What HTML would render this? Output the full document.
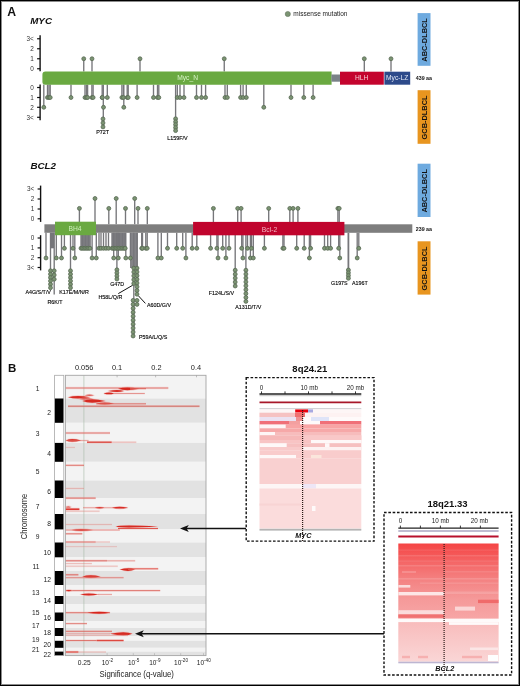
<!DOCTYPE html>
<html><head><meta charset="utf-8"><style>
html,body{margin:0;padding:0;background:#fff;}
body{width:520px;height:686px;overflow:hidden;position:relative;}
svg{position:absolute;left:0;top:0;font-family:"Liberation Sans", sans-serif;will-change:transform;}
#frame{position:absolute;left:0;top:0;width:518px;height:684px;border:1px solid #000;box-shadow:inset 0 0 0 1px #8c8c8c;}
</style></head><body>
<svg width="520" height="686" viewBox="0 0 520 686">
<rect width="520" height="686" fill="#fff"/>
<text x="7.2" y="15.7" font-size="12.2" text-anchor="start" fill="#111" font-weight="bold" font-style="normal" >A</text>
<text x="30.2" y="24.3" font-size="9.8" text-anchor="start" fill="#111" font-weight="bold" font-style="italic" >MYC</text>
<circle cx="287.8" cy="14" r="2.6" fill="#7b9472" stroke="#5b6b56" stroke-width="0.5"/>
<text x="293.3" y="16.3" font-size="6.5" text-anchor="start" fill="#222" font-weight="normal" font-style="normal" >missense mutation</text>
<rect x="417.6" y="13.1" width="12.9" height="52.699999999999996" fill="#6eaadf"/>
<text x="424.1" y="39.9" font-size="7.4" font-weight="bold" text-anchor="middle" fill="#111" transform="rotate(-90 424.1 39.9)" dy="2.6">ABC-DLBCL</text>
<rect x="417.6" y="90.2" width="12.9" height="53.60000000000001" fill="#e8951f"/>
<text x="424.1" y="117.45" font-size="7.4" font-weight="bold" text-anchor="middle" fill="#111" transform="rotate(-90 424.1 117.45)" dy="2.6">GCB-DLBCL</text>
<rect x="417.6" y="163.7" width="12.9" height="53.30000000000001" fill="#6eaadf"/>
<text x="424.1" y="190.79999999999998" font-size="7.4" font-weight="bold" text-anchor="middle" fill="#111" transform="rotate(-90 424.1 190.79999999999998)" dy="2.6">ABC-DLBCL</text>
<rect x="417.6" y="241.3" width="12.9" height="53.30000000000001" fill="#e8951f"/>
<text x="424.1" y="268.40000000000003" font-size="7.4" font-weight="bold" text-anchor="middle" fill="#111" transform="rotate(-90 424.1 268.40000000000003)" dy="2.6">GCB-DLBCL</text>
<line x1="40.1" y1="35.3" x2="40.1" y2="71.3" stroke="#111" stroke-width="1.4"/>
<line x1="37.1" y1="38.75" x2="40.1" y2="38.75" stroke="#111" stroke-width="1.2"/>
<text x="33.800000000000004" y="40.95" font-size="6.4" text-anchor="end" fill="#333">3&lt;</text>
<line x1="37.1" y1="48.75" x2="40.1" y2="48.75" stroke="#111" stroke-width="1.2"/>
<text x="33.800000000000004" y="50.95" font-size="6.4" text-anchor="end" fill="#333">2</text>
<line x1="37.1" y1="58.75" x2="40.1" y2="58.75" stroke="#111" stroke-width="1.2"/>
<text x="33.800000000000004" y="60.95" font-size="6.4" text-anchor="end" fill="#333">1</text>
<line x1="37.1" y1="68.75" x2="40.1" y2="68.75" stroke="#111" stroke-width="1.2"/>
<text x="33.800000000000004" y="70.95" font-size="6.4" text-anchor="end" fill="#333">0</text>
<line x1="40.1" y1="84.4" x2="40.1" y2="120.3" stroke="#111" stroke-width="1.4"/>
<line x1="37.1" y1="87.5" x2="40.1" y2="87.5" stroke="#111" stroke-width="1.2"/>
<text x="33.800000000000004" y="89.7" font-size="6.4" text-anchor="end" fill="#333">0</text>
<line x1="37.1" y1="97.5" x2="40.1" y2="97.5" stroke="#111" stroke-width="1.2"/>
<text x="33.800000000000004" y="99.7" font-size="6.4" text-anchor="end" fill="#333">1</text>
<line x1="37.1" y1="107.3" x2="40.1" y2="107.3" stroke="#111" stroke-width="1.2"/>
<text x="33.800000000000004" y="109.5" font-size="6.4" text-anchor="end" fill="#333">2</text>
<line x1="37.1" y1="117.3" x2="40.1" y2="117.3" stroke="#111" stroke-width="1.2"/>
<text x="33.800000000000004" y="119.5" font-size="6.4" text-anchor="end" fill="#333">3&lt;</text>
<line x1="83.75" y1="71.6" x2="83.75" y2="58.75" stroke="#76767a" stroke-width="1.35"/>
<line x1="92" y1="71.6" x2="92" y2="58.75" stroke="#76767a" stroke-width="1.35"/>
<line x1="140" y1="71.6" x2="140" y2="58.75" stroke="#76767a" stroke-width="1.35"/>
<line x1="224.25" y1="71.6" x2="224.25" y2="58.75" stroke="#76767a" stroke-width="1.35"/>
<line x1="364.3" y1="71.6" x2="364.3" y2="58.75" stroke="#76767a" stroke-width="1.35"/>
<line x1="391" y1="71.6" x2="391" y2="58.75" stroke="#76767a" stroke-width="1.35"/>
<line x1="47.5" y1="84.6" x2="47.5" y2="97.5" stroke="#76767a" stroke-width="1.35"/>
<line x1="49" y1="84.6" x2="49" y2="97.5" stroke="#76767a" stroke-width="1.35"/>
<line x1="50.2" y1="84.6" x2="50.2" y2="97.5" stroke="#76767a" stroke-width="1.35"/>
<line x1="71" y1="84.6" x2="71" y2="97.5" stroke="#76767a" stroke-width="1.35"/>
<line x1="85" y1="84.6" x2="85" y2="97.5" stroke="#76767a" stroke-width="1.35"/>
<line x1="86.5" y1="84.6" x2="86.5" y2="97.5" stroke="#76767a" stroke-width="1.35"/>
<line x1="87.6" y1="84.6" x2="87.6" y2="97.5" stroke="#76767a" stroke-width="1.35"/>
<line x1="91.9" y1="84.6" x2="91.9" y2="97.5" stroke="#76767a" stroke-width="1.35"/>
<line x1="93.1" y1="84.6" x2="93.1" y2="97.5" stroke="#76767a" stroke-width="1.35"/>
<line x1="102.2" y1="84.6" x2="102.2" y2="97.5" stroke="#76767a" stroke-width="1.35"/>
<line x1="107.3" y1="84.6" x2="107.3" y2="97.5" stroke="#76767a" stroke-width="1.35"/>
<line x1="121.9" y1="84.6" x2="121.9" y2="97.5" stroke="#76767a" stroke-width="1.35"/>
<line x1="123.4" y1="84.6" x2="123.4" y2="97.5" stroke="#76767a" stroke-width="1.35"/>
<line x1="127.2" y1="84.6" x2="127.2" y2="97.5" stroke="#76767a" stroke-width="1.35"/>
<line x1="128.2" y1="84.6" x2="128.2" y2="97.5" stroke="#76767a" stroke-width="1.35"/>
<line x1="137.1" y1="84.6" x2="137.1" y2="97.5" stroke="#76767a" stroke-width="1.35"/>
<line x1="153.5" y1="84.6" x2="153.5" y2="97.5" stroke="#76767a" stroke-width="1.35"/>
<line x1="157.5" y1="84.6" x2="157.5" y2="97.5" stroke="#76767a" stroke-width="1.35"/>
<line x1="158.8" y1="84.6" x2="158.8" y2="97.5" stroke="#76767a" stroke-width="1.35"/>
<line x1="177.3" y1="84.6" x2="177.3" y2="97.5" stroke="#76767a" stroke-width="1.35"/>
<line x1="180" y1="84.6" x2="180" y2="97.5" stroke="#76767a" stroke-width="1.35"/>
<line x1="184" y1="84.6" x2="184" y2="97.5" stroke="#76767a" stroke-width="1.35"/>
<line x1="196.5" y1="84.6" x2="196.5" y2="97.5" stroke="#76767a" stroke-width="1.35"/>
<line x1="201.5" y1="84.6" x2="201.5" y2="97.5" stroke="#76767a" stroke-width="1.35"/>
<line x1="205.6" y1="84.6" x2="205.6" y2="97.5" stroke="#76767a" stroke-width="1.35"/>
<line x1="225" y1="84.6" x2="225" y2="97.5" stroke="#76767a" stroke-width="1.35"/>
<line x1="227.3" y1="84.6" x2="227.3" y2="97.5" stroke="#76767a" stroke-width="1.35"/>
<line x1="240.6" y1="84.6" x2="240.6" y2="97.5" stroke="#76767a" stroke-width="1.35"/>
<line x1="243.1" y1="84.6" x2="243.1" y2="97.5" stroke="#76767a" stroke-width="1.35"/>
<line x1="246.3" y1="84.6" x2="246.3" y2="97.5" stroke="#76767a" stroke-width="1.35"/>
<line x1="291" y1="84.6" x2="291" y2="97.5" stroke="#76767a" stroke-width="1.35"/>
<line x1="303.8" y1="84.6" x2="303.8" y2="97.5" stroke="#76767a" stroke-width="1.35"/>
<line x1="313.1" y1="84.6" x2="313.1" y2="97.5" stroke="#76767a" stroke-width="1.35"/>
<line x1="43.8" y1="84.6" x2="43.8" y2="107.3" stroke="#76767a" stroke-width="1.35"/>
<line x1="123.8" y1="84.6" x2="123.8" y2="107.3" stroke="#76767a" stroke-width="1.35"/>
<line x1="263.8" y1="84.6" x2="263.8" y2="107.3" stroke="#76767a" stroke-width="1.35"/>
<line x1="103.3" y1="84.6" x2="103.3" y2="127.0" stroke="#76767a" stroke-width="1.35"/>
<line x1="175.6" y1="84.6" x2="175.6" y2="130.6" stroke="#76767a" stroke-width="1.35"/>
<path d="M45.5,71.5 H331.6 V84.7 H45.5 Q42.4,84.7 42.4,81.5 V74.7 Q42.4,71.5 45.5,71.5 Z" fill="#6aa941"/>
<rect x="331.4" y="74.5" width="9" height="7.2" fill="#7a8288"/>
<rect x="340" y="71.7" width="43.8" height="13" fill="#c4042e"/>
<rect x="384.4" y="71.7" width="25.8" height="13" fill="#2d4a8a"/>
<text x="187.6" y="80.2" font-size="6.7" text-anchor="middle" fill="#d6f2c6" font-weight="normal" font-style="normal" >Myc_N</text>
<text x="361.7" y="80.2" font-size="6.7" text-anchor="middle" fill="#f6cdd5" font-weight="normal" font-style="normal" >HLH</text>
<text x="397.2" y="80.2" font-size="6.7" text-anchor="middle" fill="#e2e8f6" font-weight="normal" font-style="normal" >Myc-LZ</text>
<text x="415.8" y="80.0" font-size="5.3" text-anchor="start" fill="#111" font-weight="bold" font-style="normal" >439 aa</text>
<circle cx="83.75" cy="58.75" r="1.95" fill="#7b9472" stroke="#5b6b56" stroke-width="0.85"/>
<circle cx="92" cy="58.75" r="1.95" fill="#7b9472" stroke="#5b6b56" stroke-width="0.85"/>
<circle cx="140" cy="58.75" r="1.95" fill="#7b9472" stroke="#5b6b56" stroke-width="0.85"/>
<circle cx="224.25" cy="58.75" r="1.95" fill="#7b9472" stroke="#5b6b56" stroke-width="0.85"/>
<circle cx="364.3" cy="58.75" r="1.95" fill="#7b9472" stroke="#5b6b56" stroke-width="0.85"/>
<circle cx="391" cy="58.75" r="1.95" fill="#7b9472" stroke="#5b6b56" stroke-width="0.85"/>
<circle cx="47.5" cy="97.5" r="1.95" fill="#7b9472" stroke="#5b6b56" stroke-width="0.85"/>
<circle cx="49" cy="97.5" r="1.95" fill="#7b9472" stroke="#5b6b56" stroke-width="0.85"/>
<circle cx="50.2" cy="97.5" r="1.95" fill="#7b9472" stroke="#5b6b56" stroke-width="0.85"/>
<circle cx="71" cy="97.5" r="1.95" fill="#7b9472" stroke="#5b6b56" stroke-width="0.85"/>
<circle cx="85" cy="97.5" r="1.95" fill="#7b9472" stroke="#5b6b56" stroke-width="0.85"/>
<circle cx="86.5" cy="97.5" r="1.95" fill="#7b9472" stroke="#5b6b56" stroke-width="0.85"/>
<circle cx="87.6" cy="97.5" r="1.95" fill="#7b9472" stroke="#5b6b56" stroke-width="0.85"/>
<circle cx="91.9" cy="97.5" r="1.95" fill="#7b9472" stroke="#5b6b56" stroke-width="0.85"/>
<circle cx="93.1" cy="97.5" r="1.95" fill="#7b9472" stroke="#5b6b56" stroke-width="0.85"/>
<circle cx="102.2" cy="97.5" r="1.95" fill="#7b9472" stroke="#5b6b56" stroke-width="0.85"/>
<circle cx="107.3" cy="97.5" r="1.95" fill="#7b9472" stroke="#5b6b56" stroke-width="0.85"/>
<circle cx="121.9" cy="97.5" r="1.95" fill="#7b9472" stroke="#5b6b56" stroke-width="0.85"/>
<circle cx="123.4" cy="97.5" r="1.95" fill="#7b9472" stroke="#5b6b56" stroke-width="0.85"/>
<circle cx="127.2" cy="97.5" r="1.95" fill="#7b9472" stroke="#5b6b56" stroke-width="0.85"/>
<circle cx="128.2" cy="97.5" r="1.95" fill="#7b9472" stroke="#5b6b56" stroke-width="0.85"/>
<circle cx="137.1" cy="97.5" r="1.95" fill="#7b9472" stroke="#5b6b56" stroke-width="0.85"/>
<circle cx="153.5" cy="97.5" r="1.95" fill="#7b9472" stroke="#5b6b56" stroke-width="0.85"/>
<circle cx="157.5" cy="97.5" r="1.95" fill="#7b9472" stroke="#5b6b56" stroke-width="0.85"/>
<circle cx="158.8" cy="97.5" r="1.95" fill="#7b9472" stroke="#5b6b56" stroke-width="0.85"/>
<circle cx="177.3" cy="97.5" r="1.95" fill="#7b9472" stroke="#5b6b56" stroke-width="0.85"/>
<circle cx="180" cy="97.5" r="1.95" fill="#7b9472" stroke="#5b6b56" stroke-width="0.85"/>
<circle cx="184" cy="97.5" r="1.95" fill="#7b9472" stroke="#5b6b56" stroke-width="0.85"/>
<circle cx="196.5" cy="97.5" r="1.95" fill="#7b9472" stroke="#5b6b56" stroke-width="0.85"/>
<circle cx="201.5" cy="97.5" r="1.95" fill="#7b9472" stroke="#5b6b56" stroke-width="0.85"/>
<circle cx="205.6" cy="97.5" r="1.95" fill="#7b9472" stroke="#5b6b56" stroke-width="0.85"/>
<circle cx="225" cy="97.5" r="1.95" fill="#7b9472" stroke="#5b6b56" stroke-width="0.85"/>
<circle cx="227.3" cy="97.5" r="1.95" fill="#7b9472" stroke="#5b6b56" stroke-width="0.85"/>
<circle cx="240.6" cy="97.5" r="1.95" fill="#7b9472" stroke="#5b6b56" stroke-width="0.85"/>
<circle cx="243.1" cy="97.5" r="1.95" fill="#7b9472" stroke="#5b6b56" stroke-width="0.85"/>
<circle cx="246.3" cy="97.5" r="1.95" fill="#7b9472" stroke="#5b6b56" stroke-width="0.85"/>
<circle cx="291" cy="97.5" r="1.95" fill="#7b9472" stroke="#5b6b56" stroke-width="0.85"/>
<circle cx="303.8" cy="97.5" r="1.95" fill="#7b9472" stroke="#5b6b56" stroke-width="0.85"/>
<circle cx="313.1" cy="97.5" r="1.95" fill="#7b9472" stroke="#5b6b56" stroke-width="0.85"/>
<circle cx="43.8" cy="107.3" r="1.95" fill="#7b9472" stroke="#5b6b56" stroke-width="0.85"/>
<circle cx="123.8" cy="107.3" r="1.95" fill="#7b9472" stroke="#5b6b56" stroke-width="0.85"/>
<circle cx="263.8" cy="107.3" r="1.95" fill="#7b9472" stroke="#5b6b56" stroke-width="0.85"/>
<circle cx="102.3" cy="97.5" r="1.95" fill="#7b9472" stroke="#5b6b56" stroke-width="0.85"/>
<circle cx="103.5" cy="107.3" r="1.95" fill="#7b9472" stroke="#5b6b56" stroke-width="0.85"/>
<circle cx="103.0" cy="118.9" r="1.95" fill="#7b9472" stroke="#5b6b56" stroke-width="0.85"/>
<circle cx="103.0" cy="122.9" r="1.95" fill="#7b9472" stroke="#5b6b56" stroke-width="0.85"/>
<circle cx="103.0" cy="126.9" r="1.95" fill="#7b9472" stroke="#5b6b56" stroke-width="0.85"/>
<circle cx="175.6" cy="118.8" r="1.95" fill="#7b9472" stroke="#5b6b56" stroke-width="0.85"/>
<circle cx="175.6" cy="121.8" r="1.95" fill="#7b9472" stroke="#5b6b56" stroke-width="0.85"/>
<circle cx="175.6" cy="124.6" r="1.95" fill="#7b9472" stroke="#5b6b56" stroke-width="0.85"/>
<circle cx="175.6" cy="127.6" r="1.95" fill="#7b9472" stroke="#5b6b56" stroke-width="0.85"/>
<circle cx="175.6" cy="130.6" r="1.95" fill="#7b9472" stroke="#5b6b56" stroke-width="0.85"/>
<text x="102.6" y="133.6" font-size="5.4" text-anchor="middle" fill="#000" font-weight="normal" font-style="normal" stroke="#000" stroke-width="0.12">P72T</text>
<text x="177.5" y="139.6" font-size="5.4" text-anchor="middle" fill="#000" font-weight="normal" font-style="normal" stroke="#000" stroke-width="0.12">L159F/V</text>
<text x="30.4" y="169.3" font-size="9.8" text-anchor="start" fill="#111" font-weight="bold" font-style="italic" >BCL2</text>
<line x1="40.6" y1="185.6" x2="40.6" y2="221.9" stroke="#111" stroke-width="1.4"/>
<line x1="37.6" y1="189" x2="40.6" y2="189" stroke="#111" stroke-width="1.2"/>
<text x="34.300000000000004" y="191.2" font-size="6.4" text-anchor="end" fill="#333">3&lt;</text>
<line x1="37.6" y1="199" x2="40.6" y2="199" stroke="#111" stroke-width="1.2"/>
<text x="34.300000000000004" y="201.2" font-size="6.4" text-anchor="end" fill="#333">2</text>
<line x1="37.6" y1="209" x2="40.6" y2="209" stroke="#111" stroke-width="1.2"/>
<text x="34.300000000000004" y="211.2" font-size="6.4" text-anchor="end" fill="#333">1</text>
<line x1="37.6" y1="218.8" x2="40.6" y2="218.8" stroke="#111" stroke-width="1.2"/>
<text x="34.300000000000004" y="221.0" font-size="6.4" text-anchor="end" fill="#333">0</text>
<line x1="40.6" y1="235.2" x2="40.6" y2="270.4" stroke="#111" stroke-width="1.4"/>
<line x1="37.6" y1="238" x2="40.6" y2="238" stroke="#111" stroke-width="1.2"/>
<text x="34.300000000000004" y="240.2" font-size="6.4" text-anchor="end" fill="#333">0</text>
<line x1="37.6" y1="247.9" x2="40.6" y2="247.9" stroke="#111" stroke-width="1.2"/>
<text x="34.300000000000004" y="250.1" font-size="6.4" text-anchor="end" fill="#333">1</text>
<line x1="37.6" y1="257.7" x2="40.6" y2="257.7" stroke="#111" stroke-width="1.2"/>
<text x="34.300000000000004" y="259.9" font-size="6.4" text-anchor="end" fill="#333">2</text>
<line x1="37.6" y1="267.5" x2="40.6" y2="267.5" stroke="#111" stroke-width="1.2"/>
<text x="34.300000000000004" y="269.7" font-size="6.4" text-anchor="end" fill="#333">3&lt;</text>
<line x1="79.4" y1="224.3" x2="79.4" y2="208.4" stroke="#76767a" stroke-width="1.35"/>
<line x1="108.8" y1="224.3" x2="108.8" y2="208.4" stroke="#76767a" stroke-width="1.35"/>
<line x1="125.5" y1="224.3" x2="125.5" y2="208.4" stroke="#76767a" stroke-width="1.35"/>
<line x1="138" y1="224.3" x2="138" y2="208.4" stroke="#76767a" stroke-width="1.35"/>
<line x1="147.3" y1="224.3" x2="147.3" y2="208.4" stroke="#76767a" stroke-width="1.35"/>
<line x1="213.4" y1="224.3" x2="213.4" y2="208.4" stroke="#76767a" stroke-width="1.35"/>
<line x1="237.7" y1="224.3" x2="237.7" y2="208.4" stroke="#76767a" stroke-width="1.35"/>
<line x1="241.1" y1="224.3" x2="241.1" y2="208.4" stroke="#76767a" stroke-width="1.35"/>
<line x1="268.7" y1="224.3" x2="268.7" y2="208.4" stroke="#76767a" stroke-width="1.35"/>
<line x1="289.8" y1="224.3" x2="289.8" y2="208.4" stroke="#76767a" stroke-width="1.35"/>
<line x1="293.1" y1="224.3" x2="293.1" y2="208.4" stroke="#76767a" stroke-width="1.35"/>
<line x1="297.9" y1="224.3" x2="297.9" y2="208.4" stroke="#76767a" stroke-width="1.35"/>
<line x1="337.9" y1="224.3" x2="337.9" y2="208.4" stroke="#76767a" stroke-width="1.35"/>
<line x1="339.2" y1="224.3" x2="339.2" y2="208.4" stroke="#76767a" stroke-width="1.35"/>
<line x1="95" y1="224.3" x2="95" y2="198.5" stroke="#76767a" stroke-width="1.35"/>
<line x1="116.2" y1="224.3" x2="116.2" y2="198.5" stroke="#76767a" stroke-width="1.35"/>
<line x1="134.7" y1="224.3" x2="134.7" y2="198.5" stroke="#76767a" stroke-width="1.35"/>
<line x1="64.4" y1="232.8" x2="64.4" y2="248.3" stroke="#76767a" stroke-width="1.35"/>
<line x1="73" y1="232.8" x2="73" y2="248.3" stroke="#76767a" stroke-width="1.35"/>
<line x1="81" y1="232.8" x2="81" y2="248.3" stroke="#76767a" stroke-width="1.35"/>
<line x1="82.5" y1="232.8" x2="82.5" y2="248.3" stroke="#76767a" stroke-width="1.35"/>
<line x1="84" y1="232.8" x2="84" y2="248.3" stroke="#76767a" stroke-width="1.35"/>
<line x1="85.5" y1="232.8" x2="85.5" y2="248.3" stroke="#76767a" stroke-width="1.35"/>
<line x1="87" y1="232.8" x2="87" y2="248.3" stroke="#76767a" stroke-width="1.35"/>
<line x1="88.5" y1="232.8" x2="88.5" y2="248.3" stroke="#76767a" stroke-width="1.35"/>
<line x1="90" y1="232.8" x2="90" y2="248.3" stroke="#76767a" stroke-width="1.35"/>
<line x1="99" y1="232.8" x2="99" y2="248.3" stroke="#76767a" stroke-width="1.35"/>
<line x1="101" y1="232.8" x2="101" y2="248.3" stroke="#76767a" stroke-width="1.35"/>
<line x1="103.5" y1="232.8" x2="103.5" y2="248.3" stroke="#76767a" stroke-width="1.35"/>
<line x1="106" y1="232.8" x2="106" y2="248.3" stroke="#76767a" stroke-width="1.35"/>
<line x1="108.5" y1="232.8" x2="108.5" y2="248.3" stroke="#76767a" stroke-width="1.35"/>
<line x1="112" y1="232.8" x2="112" y2="248.3" stroke="#76767a" stroke-width="1.35"/>
<line x1="113.5" y1="232.8" x2="113.5" y2="248.3" stroke="#76767a" stroke-width="1.35"/>
<line x1="115" y1="232.8" x2="115" y2="248.3" stroke="#76767a" stroke-width="1.35"/>
<line x1="116.5" y1="232.8" x2="116.5" y2="248.3" stroke="#76767a" stroke-width="1.35"/>
<line x1="118" y1="232.8" x2="118" y2="248.3" stroke="#76767a" stroke-width="1.35"/>
<line x1="119.5" y1="232.8" x2="119.5" y2="248.3" stroke="#76767a" stroke-width="1.35"/>
<line x1="121" y1="232.8" x2="121" y2="248.3" stroke="#76767a" stroke-width="1.35"/>
<line x1="122.5" y1="232.8" x2="122.5" y2="248.3" stroke="#76767a" stroke-width="1.35"/>
<line x1="124" y1="232.8" x2="124" y2="248.3" stroke="#76767a" stroke-width="1.35"/>
<line x1="125.2" y1="232.8" x2="125.2" y2="248.3" stroke="#76767a" stroke-width="1.35"/>
<line x1="141.7" y1="232.8" x2="141.7" y2="248.3" stroke="#76767a" stroke-width="1.35"/>
<line x1="142.5" y1="232.8" x2="142.5" y2="248.3" stroke="#76767a" stroke-width="1.35"/>
<line x1="145.8" y1="232.8" x2="145.8" y2="248.3" stroke="#76767a" stroke-width="1.35"/>
<line x1="147.2" y1="232.8" x2="147.2" y2="248.3" stroke="#76767a" stroke-width="1.35"/>
<line x1="167.5" y1="232.8" x2="167.5" y2="248.3" stroke="#76767a" stroke-width="1.35"/>
<line x1="176.7" y1="232.8" x2="176.7" y2="248.3" stroke="#76767a" stroke-width="1.35"/>
<line x1="182.7" y1="232.8" x2="182.7" y2="248.3" stroke="#76767a" stroke-width="1.35"/>
<line x1="192.2" y1="232.8" x2="192.2" y2="248.3" stroke="#76767a" stroke-width="1.35"/>
<line x1="196.8" y1="232.8" x2="196.8" y2="248.3" stroke="#76767a" stroke-width="1.35"/>
<line x1="210.6" y1="232.8" x2="210.6" y2="248.3" stroke="#76767a" stroke-width="1.35"/>
<line x1="216.9" y1="232.8" x2="216.9" y2="248.3" stroke="#76767a" stroke-width="1.35"/>
<line x1="222.7" y1="232.8" x2="222.7" y2="248.3" stroke="#76767a" stroke-width="1.35"/>
<line x1="229" y1="232.8" x2="229" y2="248.3" stroke="#76767a" stroke-width="1.35"/>
<line x1="241.7" y1="232.8" x2="241.7" y2="248.3" stroke="#76767a" stroke-width="1.35"/>
<line x1="247.5" y1="232.8" x2="247.5" y2="248.3" stroke="#76767a" stroke-width="1.35"/>
<line x1="251.5" y1="232.8" x2="251.5" y2="248.3" stroke="#76767a" stroke-width="1.35"/>
<line x1="264.4" y1="232.8" x2="264.4" y2="248.3" stroke="#76767a" stroke-width="1.35"/>
<line x1="282.9" y1="232.8" x2="282.9" y2="248.3" stroke="#76767a" stroke-width="1.35"/>
<line x1="284" y1="232.8" x2="284" y2="248.3" stroke="#76767a" stroke-width="1.35"/>
<line x1="296.7" y1="232.8" x2="296.7" y2="248.3" stroke="#76767a" stroke-width="1.35"/>
<line x1="304.2" y1="232.8" x2="304.2" y2="248.3" stroke="#76767a" stroke-width="1.35"/>
<line x1="310.6" y1="232.8" x2="310.6" y2="248.3" stroke="#76767a" stroke-width="1.35"/>
<line x1="324.5" y1="232.8" x2="324.5" y2="248.3" stroke="#76767a" stroke-width="1.35"/>
<line x1="327.7" y1="232.8" x2="327.7" y2="248.3" stroke="#76767a" stroke-width="1.35"/>
<line x1="330.6" y1="232.8" x2="330.6" y2="248.3" stroke="#76767a" stroke-width="1.35"/>
<line x1="338.7" y1="232.8" x2="338.7" y2="248.3" stroke="#76767a" stroke-width="1.35"/>
<line x1="358.8" y1="232.8" x2="358.8" y2="248.3" stroke="#76767a" stroke-width="1.35"/>
<line x1="46" y1="232.8" x2="46" y2="258.0" stroke="#76767a" stroke-width="1.35"/>
<line x1="56.3" y1="232.8" x2="56.3" y2="258.0" stroke="#76767a" stroke-width="1.35"/>
<line x1="61.5" y1="232.8" x2="61.5" y2="258.0" stroke="#76767a" stroke-width="1.35"/>
<line x1="74.8" y1="232.8" x2="74.8" y2="258.0" stroke="#76767a" stroke-width="1.35"/>
<line x1="92.1" y1="232.8" x2="92.1" y2="258.0" stroke="#76767a" stroke-width="1.35"/>
<line x1="96.3" y1="232.8" x2="96.3" y2="258.0" stroke="#76767a" stroke-width="1.35"/>
<line x1="113.7" y1="232.8" x2="113.7" y2="258.0" stroke="#76767a" stroke-width="1.35"/>
<line x1="118.3" y1="232.8" x2="118.3" y2="258.0" stroke="#76767a" stroke-width="1.35"/>
<line x1="125.8" y1="232.8" x2="125.8" y2="258.0" stroke="#76767a" stroke-width="1.35"/>
<line x1="130.4" y1="232.8" x2="130.4" y2="258.0" stroke="#76767a" stroke-width="1.35"/>
<line x1="157.9" y1="232.8" x2="157.9" y2="258.0" stroke="#76767a" stroke-width="1.35"/>
<line x1="161.3" y1="232.8" x2="161.3" y2="258.0" stroke="#76767a" stroke-width="1.35"/>
<line x1="185.9" y1="232.8" x2="185.9" y2="258.0" stroke="#76767a" stroke-width="1.35"/>
<line x1="218" y1="232.8" x2="218" y2="258.0" stroke="#76767a" stroke-width="1.35"/>
<line x1="225.9" y1="232.8" x2="225.9" y2="258.0" stroke="#76767a" stroke-width="1.35"/>
<line x1="242.9" y1="232.8" x2="242.9" y2="258.0" stroke="#76767a" stroke-width="1.35"/>
<line x1="250.4" y1="232.8" x2="250.4" y2="258.0" stroke="#76767a" stroke-width="1.35"/>
<line x1="253.3" y1="232.8" x2="253.3" y2="258.0" stroke="#76767a" stroke-width="1.35"/>
<line x1="309.4" y1="232.8" x2="309.4" y2="258.0" stroke="#76767a" stroke-width="1.35"/>
<line x1="339.8" y1="232.8" x2="339.8" y2="258.0" stroke="#76767a" stroke-width="1.35"/>
<line x1="357.2" y1="232.8" x2="357.2" y2="258.0" stroke="#76767a" stroke-width="1.35"/>
<rect x="50" y="232.8" width="4" height="15.5" fill="#76767a"/>
<rect x="112" y="232.8" width="13.5" height="14.5" fill="#76767a" opacity="0.85"/>
<rect x="81" y="232.8" width="9.5" height="14.5" fill="#76767a" opacity="0.85"/>
<rect x="130" y="232.8" width="8" height="35.19999999999999" fill="#76767a" opacity="0.9"/>
<line x1="50.5" y1="232.8" x2="50.5" y2="287.7" stroke="#76767a" stroke-width="1.35"/>
<line x1="54.2" y1="232.8" x2="54.2" y2="294.6" stroke="#76767a" stroke-width="1.35"/>
<line x1="70.5" y1="232.8" x2="70.5" y2="287.7" stroke="#76767a" stroke-width="1.35"/>
<line x1="116.9" y1="232.8" x2="116.9" y2="278.8" stroke="#76767a" stroke-width="1.35"/>
<line x1="133.8" y1="232.8" x2="133.8" y2="336.0" stroke="#76767a" stroke-width="1.35"/>
<line x1="137.0" y1="232.8" x2="137.0" y2="294.2" stroke="#76767a" stroke-width="1.35"/>
<line x1="235.2" y1="232.8" x2="235.2" y2="286.5" stroke="#76767a" stroke-width="1.35"/>
<line x1="245.9" y1="232.8" x2="245.9" y2="301.5" stroke="#76767a" stroke-width="1.35"/>
<line x1="348.4" y1="232.8" x2="348.4" y2="278.3" stroke="#76767a" stroke-width="1.8"/>
<rect x="44.4" y="224.3" width="367.9" height="8.5" fill="#7e7e7e"/>
<rect x="55" y="221.7" width="41" height="13.5" fill="#6aa941"/>
<rect x="193.1" y="221.9" width="151.3" height="13.4" fill="#c0042d"/>
<text x="75.0" y="231.2" font-size="6.7" text-anchor="middle" fill="#cdeebb" font-weight="normal" font-style="normal" >BH4</text>
<text x="269.5" y="231.6" font-size="6.8" text-anchor="middle" fill="#f4b4c2" font-weight="normal" font-style="normal" >Bcl-2</text>
<text x="415.8" y="231.4" font-size="5.3" text-anchor="start" fill="#111" font-weight="bold" font-style="normal" >239 aa</text>
<circle cx="79.4" cy="208.4" r="1.95" fill="#7b9472" stroke="#5b6b56" stroke-width="0.85"/>
<circle cx="108.8" cy="208.4" r="1.95" fill="#7b9472" stroke="#5b6b56" stroke-width="0.85"/>
<circle cx="125.5" cy="208.4" r="1.95" fill="#7b9472" stroke="#5b6b56" stroke-width="0.85"/>
<circle cx="138" cy="208.4" r="1.95" fill="#7b9472" stroke="#5b6b56" stroke-width="0.85"/>
<circle cx="147.3" cy="208.4" r="1.95" fill="#7b9472" stroke="#5b6b56" stroke-width="0.85"/>
<circle cx="213.4" cy="208.4" r="1.95" fill="#7b9472" stroke="#5b6b56" stroke-width="0.85"/>
<circle cx="237.7" cy="208.4" r="1.95" fill="#7b9472" stroke="#5b6b56" stroke-width="0.85"/>
<circle cx="241.1" cy="208.4" r="1.95" fill="#7b9472" stroke="#5b6b56" stroke-width="0.85"/>
<circle cx="268.7" cy="208.4" r="1.95" fill="#7b9472" stroke="#5b6b56" stroke-width="0.85"/>
<circle cx="289.8" cy="208.4" r="1.95" fill="#7b9472" stroke="#5b6b56" stroke-width="0.85"/>
<circle cx="293.1" cy="208.4" r="1.95" fill="#7b9472" stroke="#5b6b56" stroke-width="0.85"/>
<circle cx="297.9" cy="208.4" r="1.95" fill="#7b9472" stroke="#5b6b56" stroke-width="0.85"/>
<circle cx="337.9" cy="208.4" r="1.95" fill="#7b9472" stroke="#5b6b56" stroke-width="0.85"/>
<circle cx="339.2" cy="208.4" r="1.95" fill="#7b9472" stroke="#5b6b56" stroke-width="0.85"/>
<circle cx="95" cy="198.5" r="1.95" fill="#7b9472" stroke="#5b6b56" stroke-width="0.85"/>
<circle cx="116.2" cy="198.5" r="1.95" fill="#7b9472" stroke="#5b6b56" stroke-width="0.85"/>
<circle cx="134.7" cy="198.5" r="1.95" fill="#7b9472" stroke="#5b6b56" stroke-width="0.85"/>
<circle cx="64.4" cy="248.3" r="1.95" fill="#7b9472" stroke="#5b6b56" stroke-width="0.85"/>
<circle cx="73" cy="248.3" r="1.95" fill="#7b9472" stroke="#5b6b56" stroke-width="0.85"/>
<circle cx="81" cy="248.3" r="1.95" fill="#7b9472" stroke="#5b6b56" stroke-width="0.85"/>
<circle cx="82.5" cy="248.3" r="1.95" fill="#7b9472" stroke="#5b6b56" stroke-width="0.85"/>
<circle cx="84" cy="248.3" r="1.95" fill="#7b9472" stroke="#5b6b56" stroke-width="0.85"/>
<circle cx="85.5" cy="248.3" r="1.95" fill="#7b9472" stroke="#5b6b56" stroke-width="0.85"/>
<circle cx="87" cy="248.3" r="1.95" fill="#7b9472" stroke="#5b6b56" stroke-width="0.85"/>
<circle cx="88.5" cy="248.3" r="1.95" fill="#7b9472" stroke="#5b6b56" stroke-width="0.85"/>
<circle cx="90" cy="248.3" r="1.95" fill="#7b9472" stroke="#5b6b56" stroke-width="0.85"/>
<circle cx="99" cy="248.3" r="1.95" fill="#7b9472" stroke="#5b6b56" stroke-width="0.85"/>
<circle cx="101" cy="248.3" r="1.95" fill="#7b9472" stroke="#5b6b56" stroke-width="0.85"/>
<circle cx="103.5" cy="248.3" r="1.95" fill="#7b9472" stroke="#5b6b56" stroke-width="0.85"/>
<circle cx="106" cy="248.3" r="1.95" fill="#7b9472" stroke="#5b6b56" stroke-width="0.85"/>
<circle cx="108.5" cy="248.3" r="1.95" fill="#7b9472" stroke="#5b6b56" stroke-width="0.85"/>
<circle cx="112" cy="248.3" r="1.95" fill="#7b9472" stroke="#5b6b56" stroke-width="0.85"/>
<circle cx="113.5" cy="248.3" r="1.95" fill="#7b9472" stroke="#5b6b56" stroke-width="0.85"/>
<circle cx="115" cy="248.3" r="1.95" fill="#7b9472" stroke="#5b6b56" stroke-width="0.85"/>
<circle cx="116.5" cy="248.3" r="1.95" fill="#7b9472" stroke="#5b6b56" stroke-width="0.85"/>
<circle cx="118" cy="248.3" r="1.95" fill="#7b9472" stroke="#5b6b56" stroke-width="0.85"/>
<circle cx="119.5" cy="248.3" r="1.95" fill="#7b9472" stroke="#5b6b56" stroke-width="0.85"/>
<circle cx="121" cy="248.3" r="1.95" fill="#7b9472" stroke="#5b6b56" stroke-width="0.85"/>
<circle cx="122.5" cy="248.3" r="1.95" fill="#7b9472" stroke="#5b6b56" stroke-width="0.85"/>
<circle cx="124" cy="248.3" r="1.95" fill="#7b9472" stroke="#5b6b56" stroke-width="0.85"/>
<circle cx="125.2" cy="248.3" r="1.95" fill="#7b9472" stroke="#5b6b56" stroke-width="0.85"/>
<circle cx="141.7" cy="248.3" r="1.95" fill="#7b9472" stroke="#5b6b56" stroke-width="0.85"/>
<circle cx="142.5" cy="248.3" r="1.95" fill="#7b9472" stroke="#5b6b56" stroke-width="0.85"/>
<circle cx="145.8" cy="248.3" r="1.95" fill="#7b9472" stroke="#5b6b56" stroke-width="0.85"/>
<circle cx="147.2" cy="248.3" r="1.95" fill="#7b9472" stroke="#5b6b56" stroke-width="0.85"/>
<circle cx="167.5" cy="248.3" r="1.95" fill="#7b9472" stroke="#5b6b56" stroke-width="0.85"/>
<circle cx="176.7" cy="248.3" r="1.95" fill="#7b9472" stroke="#5b6b56" stroke-width="0.85"/>
<circle cx="182.7" cy="248.3" r="1.95" fill="#7b9472" stroke="#5b6b56" stroke-width="0.85"/>
<circle cx="192.2" cy="248.3" r="1.95" fill="#7b9472" stroke="#5b6b56" stroke-width="0.85"/>
<circle cx="196.8" cy="248.3" r="1.95" fill="#7b9472" stroke="#5b6b56" stroke-width="0.85"/>
<circle cx="210.6" cy="248.3" r="1.95" fill="#7b9472" stroke="#5b6b56" stroke-width="0.85"/>
<circle cx="216.9" cy="248.3" r="1.95" fill="#7b9472" stroke="#5b6b56" stroke-width="0.85"/>
<circle cx="222.7" cy="248.3" r="1.95" fill="#7b9472" stroke="#5b6b56" stroke-width="0.85"/>
<circle cx="229" cy="248.3" r="1.95" fill="#7b9472" stroke="#5b6b56" stroke-width="0.85"/>
<circle cx="241.7" cy="248.3" r="1.95" fill="#7b9472" stroke="#5b6b56" stroke-width="0.85"/>
<circle cx="247.5" cy="248.3" r="1.95" fill="#7b9472" stroke="#5b6b56" stroke-width="0.85"/>
<circle cx="251.5" cy="248.3" r="1.95" fill="#7b9472" stroke="#5b6b56" stroke-width="0.85"/>
<circle cx="264.4" cy="248.3" r="1.95" fill="#7b9472" stroke="#5b6b56" stroke-width="0.85"/>
<circle cx="282.9" cy="248.3" r="1.95" fill="#7b9472" stroke="#5b6b56" stroke-width="0.85"/>
<circle cx="284" cy="248.3" r="1.95" fill="#7b9472" stroke="#5b6b56" stroke-width="0.85"/>
<circle cx="296.7" cy="248.3" r="1.95" fill="#7b9472" stroke="#5b6b56" stroke-width="0.85"/>
<circle cx="304.2" cy="248.3" r="1.95" fill="#7b9472" stroke="#5b6b56" stroke-width="0.85"/>
<circle cx="310.6" cy="248.3" r="1.95" fill="#7b9472" stroke="#5b6b56" stroke-width="0.85"/>
<circle cx="324.5" cy="248.3" r="1.95" fill="#7b9472" stroke="#5b6b56" stroke-width="0.85"/>
<circle cx="327.7" cy="248.3" r="1.95" fill="#7b9472" stroke="#5b6b56" stroke-width="0.85"/>
<circle cx="330.6" cy="248.3" r="1.95" fill="#7b9472" stroke="#5b6b56" stroke-width="0.85"/>
<circle cx="338.7" cy="248.3" r="1.95" fill="#7b9472" stroke="#5b6b56" stroke-width="0.85"/>
<circle cx="358.8" cy="248.3" r="1.95" fill="#7b9472" stroke="#5b6b56" stroke-width="0.85"/>
<circle cx="46" cy="258.0" r="1.95" fill="#7b9472" stroke="#5b6b56" stroke-width="0.85"/>
<circle cx="56.3" cy="258.0" r="1.95" fill="#7b9472" stroke="#5b6b56" stroke-width="0.85"/>
<circle cx="61.5" cy="258.0" r="1.95" fill="#7b9472" stroke="#5b6b56" stroke-width="0.85"/>
<circle cx="74.8" cy="258.0" r="1.95" fill="#7b9472" stroke="#5b6b56" stroke-width="0.85"/>
<circle cx="92.1" cy="258.0" r="1.95" fill="#7b9472" stroke="#5b6b56" stroke-width="0.85"/>
<circle cx="96.3" cy="258.0" r="1.95" fill="#7b9472" stroke="#5b6b56" stroke-width="0.85"/>
<circle cx="113.7" cy="258.0" r="1.95" fill="#7b9472" stroke="#5b6b56" stroke-width="0.85"/>
<circle cx="118.3" cy="258.0" r="1.95" fill="#7b9472" stroke="#5b6b56" stroke-width="0.85"/>
<circle cx="125.8" cy="258.0" r="1.95" fill="#7b9472" stroke="#5b6b56" stroke-width="0.85"/>
<circle cx="130.4" cy="258.0" r="1.95" fill="#7b9472" stroke="#5b6b56" stroke-width="0.85"/>
<circle cx="157.9" cy="258.0" r="1.95" fill="#7b9472" stroke="#5b6b56" stroke-width="0.85"/>
<circle cx="161.3" cy="258.0" r="1.95" fill="#7b9472" stroke="#5b6b56" stroke-width="0.85"/>
<circle cx="185.9" cy="258.0" r="1.95" fill="#7b9472" stroke="#5b6b56" stroke-width="0.85"/>
<circle cx="218" cy="258.0" r="1.95" fill="#7b9472" stroke="#5b6b56" stroke-width="0.85"/>
<circle cx="225.9" cy="258.0" r="1.95" fill="#7b9472" stroke="#5b6b56" stroke-width="0.85"/>
<circle cx="242.9" cy="258.0" r="1.95" fill="#7b9472" stroke="#5b6b56" stroke-width="0.85"/>
<circle cx="250.4" cy="258.0" r="1.95" fill="#7b9472" stroke="#5b6b56" stroke-width="0.85"/>
<circle cx="253.3" cy="258.0" r="1.95" fill="#7b9472" stroke="#5b6b56" stroke-width="0.85"/>
<circle cx="309.4" cy="258.0" r="1.95" fill="#7b9472" stroke="#5b6b56" stroke-width="0.85"/>
<circle cx="339.8" cy="258.0" r="1.95" fill="#7b9472" stroke="#5b6b56" stroke-width="0.85"/>
<circle cx="357.2" cy="258.0" r="1.95" fill="#7b9472" stroke="#5b6b56" stroke-width="0.85"/>
<circle cx="50.5" cy="270.8" r="1.95" fill="#7b9472" stroke="#5b6b56" stroke-width="0.85"/>
<circle cx="50.5" cy="274.18" r="1.95" fill="#7b9472" stroke="#5b6b56" stroke-width="0.85"/>
<circle cx="50.5" cy="277.56" r="1.95" fill="#7b9472" stroke="#5b6b56" stroke-width="0.85"/>
<circle cx="50.5" cy="280.94" r="1.95" fill="#7b9472" stroke="#5b6b56" stroke-width="0.85"/>
<circle cx="50.5" cy="284.32" r="1.95" fill="#7b9472" stroke="#5b6b56" stroke-width="0.85"/>
<circle cx="50.5" cy="287.7" r="1.95" fill="#7b9472" stroke="#5b6b56" stroke-width="0.85"/>
<circle cx="54.2" cy="270.8" r="1.95" fill="#7b9472" stroke="#5b6b56" stroke-width="0.85"/>
<circle cx="54.2" cy="275.0" r="1.95" fill="#7b9472" stroke="#5b6b56" stroke-width="0.85"/>
<circle cx="54.2" cy="279.2" r="1.95" fill="#7b9472" stroke="#5b6b56" stroke-width="0.85"/>
<circle cx="70.5" cy="270.8" r="1.95" fill="#7b9472" stroke="#5b6b56" stroke-width="0.85"/>
<circle cx="70.5" cy="274.18" r="1.95" fill="#7b9472" stroke="#5b6b56" stroke-width="0.85"/>
<circle cx="70.5" cy="277.56" r="1.95" fill="#7b9472" stroke="#5b6b56" stroke-width="0.85"/>
<circle cx="70.5" cy="280.94" r="1.95" fill="#7b9472" stroke="#5b6b56" stroke-width="0.85"/>
<circle cx="70.5" cy="284.32" r="1.95" fill="#7b9472" stroke="#5b6b56" stroke-width="0.85"/>
<circle cx="70.5" cy="287.7" r="1.95" fill="#7b9472" stroke="#5b6b56" stroke-width="0.85"/>
<circle cx="116.9" cy="269.8" r="1.95" fill="#7b9472" stroke="#5b6b56" stroke-width="0.85"/>
<circle cx="116.9" cy="272.8666666666667" r="1.95" fill="#7b9472" stroke="#5b6b56" stroke-width="0.85"/>
<circle cx="116.9" cy="275.93333333333334" r="1.95" fill="#7b9472" stroke="#5b6b56" stroke-width="0.85"/>
<circle cx="116.9" cy="279.0" r="1.95" fill="#7b9472" stroke="#5b6b56" stroke-width="0.85"/>
<circle cx="133.8" cy="268.2" r="1.95" fill="#7b9472" stroke="#5b6b56" stroke-width="0.85"/>
<circle cx="133.8" cy="272.025" r="1.95" fill="#7b9472" stroke="#5b6b56" stroke-width="0.85"/>
<circle cx="133.8" cy="275.85" r="1.95" fill="#7b9472" stroke="#5b6b56" stroke-width="0.85"/>
<circle cx="133.8" cy="279.675" r="1.95" fill="#7b9472" stroke="#5b6b56" stroke-width="0.85"/>
<circle cx="133.8" cy="283.5" r="1.95" fill="#7b9472" stroke="#5b6b56" stroke-width="0.85"/>
<circle cx="137.0" cy="268.2" r="1.95" fill="#7b9472" stroke="#5b6b56" stroke-width="0.85"/>
<circle cx="137.0" cy="271.9142857142857" r="1.95" fill="#7b9472" stroke="#5b6b56" stroke-width="0.85"/>
<circle cx="137.0" cy="275.62857142857143" r="1.95" fill="#7b9472" stroke="#5b6b56" stroke-width="0.85"/>
<circle cx="137.0" cy="279.34285714285716" r="1.95" fill="#7b9472" stroke="#5b6b56" stroke-width="0.85"/>
<circle cx="137.0" cy="283.0571428571428" r="1.95" fill="#7b9472" stroke="#5b6b56" stroke-width="0.85"/>
<circle cx="137.0" cy="286.77142857142854" r="1.95" fill="#7b9472" stroke="#5b6b56" stroke-width="0.85"/>
<circle cx="137.0" cy="290.48571428571427" r="1.95" fill="#7b9472" stroke="#5b6b56" stroke-width="0.85"/>
<circle cx="137.0" cy="294.2" r="1.95" fill="#7b9472" stroke="#5b6b56" stroke-width="0.85"/>
<circle cx="133.1" cy="300.4" r="1.95" fill="#7b9472" stroke="#5b6b56" stroke-width="0.85"/>
<circle cx="133.1" cy="304.35555555555555" r="1.95" fill="#7b9472" stroke="#5b6b56" stroke-width="0.85"/>
<circle cx="133.1" cy="308.3111111111111" r="1.95" fill="#7b9472" stroke="#5b6b56" stroke-width="0.85"/>
<circle cx="133.1" cy="312.26666666666665" r="1.95" fill="#7b9472" stroke="#5b6b56" stroke-width="0.85"/>
<circle cx="133.1" cy="316.22222222222223" r="1.95" fill="#7b9472" stroke="#5b6b56" stroke-width="0.85"/>
<circle cx="133.1" cy="320.17777777777775" r="1.95" fill="#7b9472" stroke="#5b6b56" stroke-width="0.85"/>
<circle cx="133.1" cy="324.1333333333333" r="1.95" fill="#7b9472" stroke="#5b6b56" stroke-width="0.85"/>
<circle cx="133.1" cy="328.0888888888889" r="1.95" fill="#7b9472" stroke="#5b6b56" stroke-width="0.85"/>
<circle cx="133.1" cy="332.0444444444444" r="1.95" fill="#7b9472" stroke="#5b6b56" stroke-width="0.85"/>
<circle cx="133.1" cy="336.0" r="1.95" fill="#7b9472" stroke="#5b6b56" stroke-width="0.85"/>
<circle cx="137.0" cy="300.4" r="1.95" fill="#7b9472" stroke="#5b6b56" stroke-width="0.85"/>
<circle cx="137.0" cy="304.4" r="1.95" fill="#7b9472" stroke="#5b6b56" stroke-width="0.85"/>
<circle cx="235.2" cy="270.2" r="1.95" fill="#7b9472" stroke="#5b6b56" stroke-width="0.85"/>
<circle cx="235.2" cy="274.15" r="1.95" fill="#7b9472" stroke="#5b6b56" stroke-width="0.85"/>
<circle cx="235.2" cy="278.1" r="1.95" fill="#7b9472" stroke="#5b6b56" stroke-width="0.85"/>
<circle cx="235.2" cy="282.05" r="1.95" fill="#7b9472" stroke="#5b6b56" stroke-width="0.85"/>
<circle cx="235.2" cy="286.0" r="1.95" fill="#7b9472" stroke="#5b6b56" stroke-width="0.85"/>
<circle cx="245.9" cy="270.2" r="1.95" fill="#7b9472" stroke="#5b6b56" stroke-width="0.85"/>
<circle cx="245.9" cy="274.09999999999997" r="1.95" fill="#7b9472" stroke="#5b6b56" stroke-width="0.85"/>
<circle cx="245.9" cy="278.0" r="1.95" fill="#7b9472" stroke="#5b6b56" stroke-width="0.85"/>
<circle cx="245.9" cy="281.9" r="1.95" fill="#7b9472" stroke="#5b6b56" stroke-width="0.85"/>
<circle cx="245.9" cy="285.79999999999995" r="1.95" fill="#7b9472" stroke="#5b6b56" stroke-width="0.85"/>
<circle cx="245.9" cy="289.7" r="1.95" fill="#7b9472" stroke="#5b6b56" stroke-width="0.85"/>
<circle cx="245.9" cy="293.59999999999997" r="1.95" fill="#7b9472" stroke="#5b6b56" stroke-width="0.85"/>
<circle cx="245.9" cy="297.5" r="1.95" fill="#7b9472" stroke="#5b6b56" stroke-width="0.85"/>
<circle cx="245.9" cy="301.4" r="1.95" fill="#7b9472" stroke="#5b6b56" stroke-width="0.85"/>
<circle cx="348.4" cy="270.0" r="1.95" fill="#7b9472" stroke="#5b6b56" stroke-width="0.85"/>
<circle cx="348.4" cy="272.76666666666665" r="1.95" fill="#7b9472" stroke="#5b6b56" stroke-width="0.85"/>
<circle cx="348.4" cy="275.53333333333336" r="1.95" fill="#7b9472" stroke="#5b6b56" stroke-width="0.85"/>
<circle cx="348.4" cy="278.3" r="1.95" fill="#7b9472" stroke="#5b6b56" stroke-width="0.85"/>
<text x="25.4" y="294.3" font-size="5.35" text-anchor="start" fill="#000" font-weight="normal" font-style="normal" stroke="#000" stroke-width="0.12">A4G/S/T/V</text>
<text x="47.4" y="303.5" font-size="5.35" text-anchor="start" fill="#000" font-weight="normal" font-style="normal" stroke="#000" stroke-width="0.12">R6K/T</text>
<text x="59.2" y="294.3" font-size="5.35" text-anchor="start" fill="#000" font-weight="normal" font-style="normal" stroke="#000" stroke-width="0.12">K17E/M/N/R</text>
<text x="110.2" y="285.8" font-size="5.35" text-anchor="start" fill="#000" font-weight="normal" font-style="normal" stroke="#000" stroke-width="0.12">G47D</text>
<text x="98.5" y="298.8" font-size="5.35" text-anchor="start" fill="#000" font-weight="normal" font-style="normal" stroke="#000" stroke-width="0.12">H58L/Q/R</text>
<line x1="132.6" y1="285.3" x2="118.3" y2="293.6" stroke="#111" stroke-width="1.0"/>
<text x="147.0" y="307.3" font-size="5.35" text-anchor="start" fill="#000" font-weight="normal" font-style="normal" stroke="#000" stroke-width="0.12">A60D/G/V</text>
<line x1="138.6" y1="296" x2="145.4" y2="303.4" stroke="#111" stroke-width="1.0"/>
<text x="139.0" y="338.5" font-size="5.35" text-anchor="start" fill="#000" font-weight="normal" font-style="normal" stroke="#000" stroke-width="0.12">P59A/L/Q/S</text>
<text x="208.8" y="295.3" font-size="5.35" text-anchor="start" fill="#000" font-weight="normal" font-style="normal" stroke="#000" stroke-width="0.12">F124L/S/V</text>
<text x="235.2" y="308.7" font-size="5.35" text-anchor="start" fill="#000" font-weight="normal" font-style="normal" stroke="#000" stroke-width="0.12">A131D/T/V</text>
<text x="331.0" y="285.3" font-size="5.35" text-anchor="start" fill="#000" font-weight="normal" font-style="normal" stroke="#000" stroke-width="0.12">G197S</text>
<text x="352.0" y="284.7" font-size="5.35" text-anchor="start" fill="#000" font-weight="normal" font-style="normal" stroke="#000" stroke-width="0.12">A196T</text>
<text x="8" y="372" font-size="11.5" text-anchor="start" fill="#111" font-weight="bold" font-style="normal" >B</text>
<rect x="65.4" y="375.3" width="140.6" height="23.19999999999999" fill="#f3f3f3"/>
<rect x="65.4" y="398.5" width="140.6" height="24.30000000000001" fill="#e2e2e2"/>
<rect x="54.6" y="398.5" width="9.2" height="24.30000000000001" fill="#000"/>
<rect x="65.4" y="422.8" width="140.6" height="20.099999999999966" fill="#f3f3f3"/>
<rect x="65.4" y="442.9" width="140.6" height="18.900000000000034" fill="#e2e2e2"/>
<rect x="54.6" y="442.9" width="9.2" height="18.900000000000034" fill="#000"/>
<rect x="65.4" y="461.8" width="140.6" height="18.69999999999999" fill="#f3f3f3"/>
<rect x="65.4" y="480.5" width="140.6" height="17.5" fill="#e2e2e2"/>
<rect x="54.6" y="480.5" width="9.2" height="17.5" fill="#000"/>
<rect x="65.4" y="498" width="140.6" height="16" fill="#f3f3f3"/>
<rect x="65.4" y="514" width="140.6" height="15.399999999999977" fill="#e2e2e2"/>
<rect x="54.6" y="514" width="9.2" height="15.399999999999977" fill="#000"/>
<rect x="65.4" y="529.4" width="140.6" height="13.100000000000023" fill="#f3f3f3"/>
<rect x="65.4" y="542.5" width="140.6" height="14.799999999999955" fill="#e2e2e2"/>
<rect x="54.6" y="542.5" width="9.2" height="14.799999999999955" fill="#000"/>
<rect x="65.4" y="557.3" width="140.6" height="13.700000000000045" fill="#f3f3f3"/>
<rect x="65.4" y="571" width="140.6" height="14" fill="#e2e2e2"/>
<rect x="54.6" y="571" width="9.2" height="14" fill="#000"/>
<rect x="65.4" y="585" width="140.6" height="11" fill="#f3f3f3"/>
<rect x="65.4" y="596" width="140.6" height="8" fill="#e2e2e2"/>
<rect x="54.6" y="596" width="9.2" height="8" fill="#000"/>
<rect x="65.4" y="604" width="140.6" height="8.5" fill="#f3f3f3"/>
<rect x="65.4" y="612.5" width="140.6" height="8.5" fill="#e2e2e2"/>
<rect x="54.6" y="612.5" width="9.2" height="8.5" fill="#000"/>
<rect x="65.4" y="621" width="140.6" height="7" fill="#f3f3f3"/>
<rect x="65.4" y="628" width="140.6" height="8" fill="#e2e2e2"/>
<rect x="54.6" y="628" width="9.2" height="8" fill="#000"/>
<rect x="65.4" y="636" width="140.6" height="4.7999999999999545" fill="#f3f3f3"/>
<rect x="65.4" y="640.8" width="140.6" height="7.0" fill="#e2e2e2"/>
<rect x="54.6" y="640.8" width="9.2" height="7.0" fill="#000"/>
<rect x="65.4" y="647.8" width="140.6" height="3.800000000000068" fill="#f3f3f3"/>
<rect x="65.4" y="651.6" width="140.6" height="4.0" fill="#e2e2e2"/>
<rect x="54.6" y="651.6" width="9.2" height="4.0" fill="#000"/>
<rect x="54.6" y="375.3" width="9.2" height="280.3" fill="none" stroke="#a8a8a8" stroke-width="0.8"/>
<line x1="83.9" y1="375.3" x2="83.9" y2="655.6" stroke="#a8b8a8" stroke-width="0.6"/>
<line x1="65.4" y1="388.0" x2="168.3" y2="388.0" stroke="#f2aaa6" stroke-width="2.3" opacity="0.36"/>
<line x1="65.4" y1="388.0" x2="168.3" y2="388.0" stroke="#d8524a" stroke-width="0.9" opacity="0.8"/>
<path d="M117,388.8 Q126,384.4 140.4,388.8 Q126,393.20000000000005 117,388.8 Z" fill="#f2a8a4" opacity="0.45"/>
<path d="M118,388.8 Q126,386.0 139.4,388.8 Q126,391.6 118,388.8 Z" fill="#d41810" opacity="0.9"/>
<path d="M107,391.0 Q118,387.4 125,391.0 Q118,394.6 107,391.0 Z" fill="#f2a8a4" opacity="0.45"/>
<path d="M108,391.0 Q118,389.0 124,391.0 Q118,393.0 108,391.0 Z" fill="#d41810" opacity="0.9"/>
<line x1="130" y1="388.6" x2="146" y2="388.6" stroke="#f2aaa6" stroke-width="2.3" opacity="0.36"/>
<line x1="130" y1="388.6" x2="146" y2="388.6" stroke="#d8524a" stroke-width="0.9" opacity="0.8"/>
<line x1="104" y1="393.5" x2="144.8" y2="393.5" stroke="#f2aaa6" stroke-width="2.2" opacity="0.29"/>
<line x1="104" y1="393.5" x2="144.8" y2="393.5" stroke="#d8524a" stroke-width="0.8" opacity="0.65"/>
<path d="M103,393.4 Q109.0,389.99999999999994 115,393.4 Q109.0,396.8 103,393.4 Z" fill="#f2a8a4" opacity="0.45"/>
<path d="M104,393.4 Q109.0,391.59999999999997 114,393.4 Q109.0,395.2 104,393.4 Z" fill="#d41810" opacity="0.9"/>
<path d="M83.8,395.2 Q89.4,392.2 95,395.2 Q89.4,398.2 83.8,395.2 Z" fill="#f2a8a4" opacity="0.45"/>
<path d="M84.8,395.2 Q89.4,393.8 94,395.2 Q89.4,396.59999999999997 84.8,395.2 Z" fill="#d41810" opacity="0.6"/>
<path d="M67,397.2 Q77,392.99999999999994 91,397.2 Q77,401.40000000000003 67,397.2 Z" fill="#f2a8a4" opacity="0.45"/>
<path d="M68,397.2 Q77,394.59999999999997 90,397.2 Q77,399.8 68,397.2 Z" fill="#d41810" opacity="0.9"/>
<path d="M78,398.9 Q86.0,395.69999999999993 94,398.9 Q86.0,402.1 78,398.9 Z" fill="#f2a8a4" opacity="0.45"/>
<path d="M79,398.9 Q86.0,397.29999999999995 93,398.9 Q86.0,400.5 79,398.9 Z" fill="#d41810" opacity="0.6"/>
<path d="M81.5,401.0 Q90.5,396.0 106.5,401.0 Q90.5,406.0 81.5,401.0 Z" fill="#f2a8a4" opacity="0.45"/>
<path d="M82.5,401.0 Q90.5,397.6 105.5,401.0 Q90.5,404.4 82.5,401.0 Z" fill="#d41810" opacity="0.9"/>
<path d="M95.3,403.5 Q104,399.7 115,403.5 Q104,407.3 95.3,403.5 Z" fill="#f2a8a4" opacity="0.45"/>
<path d="M96.3,403.5 Q104,401.3 114,403.5 Q104,405.7 96.3,403.5 Z" fill="#d41810" opacity="0.9"/>
<line x1="96.3" y1="403.8" x2="146" y2="403.8" stroke="#f2aaa6" stroke-width="2.3" opacity="0.34"/>
<line x1="96.3" y1="403.8" x2="146" y2="403.8" stroke="#d8524a" stroke-width="0.9" opacity="0.75"/>
<line x1="68" y1="406.2" x2="199.5" y2="406.2" stroke="#f2aaa6" stroke-width="2.4" opacity="0.38"/>
<line x1="68" y1="406.2" x2="199.5" y2="406.2" stroke="#c8564a" stroke-width="1.0" opacity="0.85"/>
<line x1="65.4" y1="433.0" x2="110" y2="433.0" stroke="#f2aaa6" stroke-width="2.3" opacity="0.36"/>
<line x1="65.4" y1="433.0" x2="110" y2="433.0" stroke="#d8524a" stroke-width="0.9" opacity="0.8"/>
<path d="M65,440.4 Q71,436.19999999999993 82,440.4 Q71,444.6 65,440.4 Z" fill="#f2a8a4" opacity="0.45"/>
<path d="M66,440.4 Q71,437.79999999999995 81,440.4 Q71,443.0 66,440.4 Z" fill="#d41810" opacity="0.9"/>
<line x1="65.4" y1="440.6" x2="88.6" y2="440.6" stroke="#f2aaa6" stroke-width="2.0999999999999996" opacity="0.27"/>
<line x1="65.4" y1="440.6" x2="88.6" y2="440.6" stroke="#d8524a" stroke-width="0.7" opacity="0.6"/>
<line x1="87" y1="442.2" x2="111.7" y2="442.2" stroke="#f2aaa6" stroke-width="2.7" opacity="0.43"/>
<line x1="87" y1="442.2" x2="111.7" y2="442.2" stroke="#d83a32" stroke-width="1.3" opacity="0.95"/>
<line x1="111.7" y1="442.2" x2="136.3" y2="442.2" stroke="#f2aaa6" stroke-width="2.0999999999999996" opacity="0.20"/>
<line x1="111.7" y1="442.2" x2="136.3" y2="442.2" stroke="#d8524a" stroke-width="0.7" opacity="0.45"/>
<line x1="65.4" y1="447.3" x2="75" y2="447.3" stroke="#f2aaa6" stroke-width="2.0" opacity="0.18"/>
<line x1="65.4" y1="447.3" x2="75" y2="447.3" stroke="#d8524a" stroke-width="0.6" opacity="0.4"/>
<line x1="65.4" y1="465.3" x2="84" y2="465.3" stroke="#f2aaa6" stroke-width="2.3" opacity="0.36"/>
<line x1="65.4" y1="465.3" x2="84" y2="465.3" stroke="#d8524a" stroke-width="0.9" opacity="0.8"/>
<line x1="65.4" y1="488.3" x2="84" y2="488.3" stroke="#f2aaa6" stroke-width="2.0" opacity="0.23"/>
<line x1="65.4" y1="488.3" x2="84" y2="488.3" stroke="#d8524a" stroke-width="0.6" opacity="0.5"/>
<line x1="65.4" y1="498.1" x2="95.7" y2="498.1" stroke="#f2aaa6" stroke-width="2.4" opacity="0.36"/>
<line x1="65.4" y1="498.1" x2="95.7" y2="498.1" stroke="#d8524a" stroke-width="1.0" opacity="0.8"/>
<path d="M64.5,507 Q68.25,504.2 72,507 Q68.25,509.8 64.5,507 Z" fill="#f2a8a4" opacity="0.45"/>
<path d="M65.5,507 Q68.25,505.8 71,507 Q68.25,508.2 65.5,507 Z" fill="#d41810" opacity="0.9"/>
<line x1="83" y1="507.7" x2="127.5" y2="507.7" stroke="#f2aaa6" stroke-width="2.0999999999999996" opacity="0.27"/>
<line x1="83" y1="507.7" x2="127.5" y2="507.7" stroke="#d8524a" stroke-width="0.7" opacity="0.6"/>
<path d="M93.8,507.7 Q99.6,504.7 105.4,507.7 Q99.6,510.7 93.8,507.7 Z" fill="#f2a8a4" opacity="0.45"/>
<path d="M94.8,507.7 Q99.6,506.3 104.4,507.7 Q99.6,509.09999999999997 94.8,507.7 Z" fill="#d41810" opacity="0.75"/>
<path d="M111,507.7 Q119.75,504.29999999999995 128.5,507.7 Q119.75,511.1 111,507.7 Z" fill="#f2a8a4" opacity="0.45"/>
<path d="M112,507.7 Q119.75,505.9 127.5,507.7 Q119.75,509.5 112,507.7 Z" fill="#d41810" opacity="0.85"/>
<line x1="65.4" y1="509.2" x2="79.4" y2="509.2" stroke="#f2aaa6" stroke-width="3.0" opacity="0.41"/>
<line x1="65.4" y1="509.2" x2="79.4" y2="509.2" stroke="#dc2a22" stroke-width="1.6" opacity="0.9"/>
<line x1="65.4" y1="511.2" x2="99.6" y2="511.2" stroke="#f2aaa6" stroke-width="2.0" opacity="0.20"/>
<line x1="65.4" y1="511.2" x2="99.6" y2="511.2" stroke="#d8524a" stroke-width="0.6" opacity="0.45"/>
<line x1="65.4" y1="524.6" x2="112" y2="524.6" stroke="#f2aaa6" stroke-width="2.0" opacity="0.20"/>
<line x1="65.4" y1="524.6" x2="112" y2="524.6" stroke="#d8524a" stroke-width="0.6" opacity="0.45"/>
<path d="M115,526.6 Q121,522.8 159,526.6 Q121,530.4000000000001 115,526.6 Z" fill="#f2a8a4" opacity="0.45"/>
<path d="M116,526.6 Q121,524.4 158,526.6 Q121,528.8000000000001 116,526.6 Z" fill="#d41810" opacity="0.9"/>
<line x1="118" y1="528.5" x2="158" y2="528.5" stroke="#f2aaa6" stroke-width="2.4" opacity="0.36"/>
<line x1="118" y1="528.5" x2="158" y2="528.5" stroke="#dc3a30" stroke-width="1.0" opacity="0.8"/>
<path d="M70.7,530.0 Q80,526.1999999999999 93.8,530.0 Q80,533.8000000000001 70.7,530.0 Z" fill="#f2a8a4" opacity="0.45"/>
<path d="M71.7,530.0 Q80,527.8 92.8,530.0 Q80,532.2 71.7,530.0 Z" fill="#d41810" opacity="0.9"/>
<line x1="65.4" y1="530.0" x2="119.8" y2="530.0" stroke="#f2aaa6" stroke-width="2.0999999999999996" opacity="0.32"/>
<line x1="65.4" y1="530.0" x2="119.8" y2="530.0" stroke="#d8524a" stroke-width="0.7" opacity="0.7"/>
<line x1="65.4" y1="533.8" x2="82.3" y2="533.8" stroke="#f2aaa6" stroke-width="2.3" opacity="0.36"/>
<line x1="65.4" y1="533.8" x2="82.3" y2="533.8" stroke="#d8524a" stroke-width="0.9" opacity="0.8"/>
<line x1="65.4" y1="542.0" x2="95.7" y2="542.0" stroke="#f2aaa6" stroke-width="2.3" opacity="0.36"/>
<line x1="65.4" y1="542.0" x2="95.7" y2="542.0" stroke="#d8524a" stroke-width="0.9" opacity="0.8"/>
<line x1="95.7" y1="542.0" x2="110" y2="542.0" stroke="#f2aaa6" stroke-width="2.0" opacity="0.18"/>
<line x1="95.7" y1="542.0" x2="110" y2="542.0" stroke="#d8524a" stroke-width="0.6" opacity="0.4"/>
<line x1="65.4" y1="546.7" x2="117" y2="546.7" stroke="#f2aaa6" stroke-width="2.0" opacity="0.16"/>
<line x1="65.4" y1="546.7" x2="117" y2="546.7" stroke="#d8524a" stroke-width="0.6" opacity="0.35"/>
<line x1="65.4" y1="560.8" x2="107" y2="560.8" stroke="#f2aaa6" stroke-width="2.4" opacity="0.36"/>
<line x1="65.4" y1="560.8" x2="107" y2="560.8" stroke="#d8524a" stroke-width="1.0" opacity="0.8"/>
<line x1="107" y1="560.8" x2="135.2" y2="560.8" stroke="#f2aaa6" stroke-width="2.0999999999999996" opacity="0.27"/>
<line x1="107" y1="560.8" x2="135.2" y2="560.8" stroke="#d8524a" stroke-width="0.7" opacity="0.6"/>
<line x1="65.4" y1="563.7" x2="91.9" y2="563.7" stroke="#f2aaa6" stroke-width="2.0" opacity="0.23"/>
<line x1="65.4" y1="563.7" x2="91.9" y2="563.7" stroke="#d8524a" stroke-width="0.6" opacity="0.5"/>
<line x1="65.4" y1="566.2" x2="117.8" y2="566.2" stroke="#f2aaa6" stroke-width="2.0" opacity="0.20"/>
<line x1="65.4" y1="566.2" x2="117.8" y2="566.2" stroke="#d8524a" stroke-width="0.6" opacity="0.45"/>
<path d="M118.8,569.6 Q128.4,565.4 136,569.6 Q128.4,573.8000000000001 118.8,569.6 Z" fill="#f2a8a4" opacity="0.45"/>
<path d="M119.8,569.6 Q128.4,567.0 135,569.6 Q128.4,572.2 119.8,569.6 Z" fill="#d41810" opacity="0.9"/>
<line x1="128" y1="568.8" x2="158.2" y2="568.8" stroke="#f2aaa6" stroke-width="2.4" opacity="0.36"/>
<line x1="128" y1="568.8" x2="158.2" y2="568.8" stroke="#dc3a30" stroke-width="1.0" opacity="0.8"/>
<line x1="65.4" y1="574.8" x2="78.4" y2="574.8" stroke="#f2aaa6" stroke-width="2.4" opacity="0.36"/>
<line x1="65.4" y1="574.8" x2="78.4" y2="574.8" stroke="#d8524a" stroke-width="1.0" opacity="0.8"/>
<path d="M81.3,576.5 Q90,572.5 101.5,576.5 Q90,580.5 81.3,576.5 Z" fill="#f2a8a4" opacity="0.45"/>
<path d="M82.3,576.5 Q90,574.1 100.5,576.5 Q90,578.9 82.3,576.5 Z" fill="#d41810" opacity="0.9"/>
<line x1="65.4" y1="577.7" x2="123.6" y2="577.7" stroke="#f2aaa6" stroke-width="2.2" opacity="0.32"/>
<line x1="65.4" y1="577.7" x2="123.6" y2="577.7" stroke="#d8524a" stroke-width="0.8" opacity="0.7"/>
<line x1="65.4" y1="590.6" x2="160.2" y2="590.6" stroke="#f2aaa6" stroke-width="2.3" opacity="0.36"/>
<line x1="65.4" y1="590.6" x2="160.2" y2="590.6" stroke="#d8524a" stroke-width="0.9" opacity="0.8"/>
<path d="M64.5,590.6 Q68.75,587.6 73,590.6 Q68.75,593.6 64.5,590.6 Z" fill="#f2a8a4" opacity="0.45"/>
<path d="M65.5,590.6 Q68.75,589.2 72,590.6 Q68.75,592.0 65.5,590.6 Z" fill="#d41810" opacity="0.9"/>
<path d="M79.3,594.4 Q88,590.8 99.6,594.4 Q88,598.0 79.3,594.4 Z" fill="#f2a8a4" opacity="0.45"/>
<path d="M80.3,594.4 Q88,592.4 98.6,594.4 Q88,596.4 80.3,594.4 Z" fill="#d41810" opacity="0.9"/>
<line x1="98" y1="594.4" x2="112" y2="594.4" stroke="#f2aaa6" stroke-width="2.0999999999999996" opacity="0.27"/>
<line x1="98" y1="594.4" x2="112" y2="594.4" stroke="#d8524a" stroke-width="0.7" opacity="0.6"/>
<line x1="65.4" y1="612.7" x2="110" y2="612.7" stroke="#f2aaa6" stroke-width="2.3" opacity="0.36"/>
<line x1="65.4" y1="612.7" x2="110" y2="612.7" stroke="#d8524a" stroke-width="0.9" opacity="0.8"/>
<path d="M86,612.7 Q100,609.1 111,612.7 Q100,616.3000000000001 86,612.7 Z" fill="#f2a8a4" opacity="0.45"/>
<path d="M87,612.7 Q100,610.7 110,612.7 Q100,614.7 87,612.7 Z" fill="#d41810" opacity="0.9"/>
<line x1="65.4" y1="623.6" x2="87" y2="623.6" stroke="#f2aaa6" stroke-width="2.3" opacity="0.32"/>
<line x1="65.4" y1="623.6" x2="87" y2="623.6" stroke="#d8524a" stroke-width="0.9" opacity="0.7"/>
<line x1="65.4" y1="631.3" x2="112" y2="631.3" stroke="#f2aaa6" stroke-width="2.3" opacity="0.36"/>
<line x1="65.4" y1="631.3" x2="112" y2="631.3" stroke="#d8524a" stroke-width="0.9" opacity="0.8"/>
<path d="M109,633.8 Q125.5,629.1999999999999 133.3,633.8 Q125.5,638.4 109,633.8 Z" fill="#f2a8a4" opacity="0.45"/>
<path d="M110,633.8 Q125.5,630.8 132.3,633.8 Q125.5,636.8 110,633.8 Z" fill="#d41810" opacity="0.9"/>
<line x1="65.4" y1="633.8" x2="110" y2="633.8" stroke="#f2aaa6" stroke-width="2.0999999999999996" opacity="0.23"/>
<line x1="65.4" y1="633.8" x2="110" y2="633.8" stroke="#d8524a" stroke-width="0.7" opacity="0.5"/>
<line x1="65.4" y1="635.4" x2="128" y2="635.4" stroke="#f2aaa6" stroke-width="2.0" opacity="0.20"/>
<line x1="65.4" y1="635.4" x2="128" y2="635.4" stroke="#d8524a" stroke-width="0.6" opacity="0.45"/>
<line x1="65.4" y1="640.5" x2="96.7" y2="640.5" stroke="#f2aaa6" stroke-width="2.3" opacity="0.36"/>
<line x1="65.4" y1="640.5" x2="96.7" y2="640.5" stroke="#d8524a" stroke-width="0.9" opacity="0.8"/>
<line x1="96.7" y1="640.5" x2="123.6" y2="640.5" stroke="#f2aaa6" stroke-width="2.7" opacity="0.41"/>
<line x1="96.7" y1="640.5" x2="123.6" y2="640.5" stroke="#dc3a30" stroke-width="1.3" opacity="0.9"/>
<line x1="65.4" y1="652.0" x2="78.4" y2="652.0" stroke="#f2aaa6" stroke-width="2.5999999999999996" opacity="0.41"/>
<line x1="65.4" y1="652.0" x2="78.4" y2="652.0" stroke="#dc3a30" stroke-width="1.2" opacity="0.9"/>
<line x1="78.4" y1="652.0" x2="106" y2="652.0" stroke="#f2aaa6" stroke-width="2.0" opacity="0.18"/>
<line x1="78.4" y1="652.0" x2="106" y2="652.0" stroke="#d8524a" stroke-width="0.6" opacity="0.4"/>
<rect x="65.4" y="375.3" width="140.6" height="280.3" fill="none" stroke="#a5a5a5" stroke-width="0.9"/>
<text x="84.2" y="370.2" font-size="7.4" text-anchor="middle" fill="#222" font-weight="normal" font-style="normal" >0.056</text>
<text x="117.1" y="370.2" font-size="7.4" text-anchor="middle" fill="#222" font-weight="normal" font-style="normal" >0.1</text>
<text x="156.4" y="370.2" font-size="7.4" text-anchor="middle" fill="#222" font-weight="normal" font-style="normal" >0.2</text>
<text x="196" y="370.2" font-size="7.4" text-anchor="middle" fill="#222" font-weight="normal" font-style="normal" >0.4</text>
<line x1="117.1" y1="375.3" x2="117.1" y2="377.3" stroke="#999" stroke-width="0.6"/>
<line x1="155.6" y1="375.3" x2="155.6" y2="377.3" stroke="#999" stroke-width="0.6"/>
<line x1="196.5" y1="375.3" x2="196.5" y2="377.3" stroke="#999" stroke-width="0.6"/>
<text x="84.2" y="665.4" font-size="6.7" text-anchor="middle" fill="#1a1a1a" font-weight="normal" font-style="normal" >0.25</text>
<text x="107.4" y="665.3" font-size="6.5" text-anchor="middle" fill="#1a1a1a">10<tspan dy="-3.1" font-size="4.6">-2</tspan></text>
<line x1="107.10000000000001" y1="653.2" x2="107.10000000000001" y2="655.6" stroke="#aaa" stroke-width="0.6"/>
<text x="133.6" y="665.3" font-size="6.5" text-anchor="middle" fill="#1a1a1a">10<tspan dy="-3.1" font-size="4.6">-5</tspan></text>
<line x1="133.29999999999998" y1="653.2" x2="133.29999999999998" y2="655.6" stroke="#aaa" stroke-width="0.6"/>
<text x="154.8" y="665.3" font-size="6.5" text-anchor="middle" fill="#1a1a1a">10<tspan dy="-3.1" font-size="4.6">-9</tspan></text>
<line x1="154.5" y1="653.2" x2="154.5" y2="655.6" stroke="#aaa" stroke-width="0.6"/>
<text x="181" y="665.3" font-size="6.5" text-anchor="middle" fill="#1a1a1a">10<tspan dy="-3.1" font-size="4.6">-20</tspan></text>
<line x1="180.7" y1="653.2" x2="180.7" y2="655.6" stroke="#aaa" stroke-width="0.6"/>
<text x="203.8" y="665.3" font-size="6.5" text-anchor="middle" fill="#1a1a1a">10<tspan dy="-3.1" font-size="4.6">-40</tspan></text>
<line x1="203.5" y1="653.2" x2="203.5" y2="655.6" stroke="#aaa" stroke-width="0.6"/>
<text x="99.5" y="677.3" font-size="9.5" fill="#222" textLength="74.4" lengthAdjust="spacingAndGlyphs">Significance (q-value)</text>
<text x="39.5" y="390.8" font-size="6.7" text-anchor="end" fill="#222" font-weight="normal" font-style="normal" >1</text>
<text x="50.9" y="415.1" font-size="6.7" text-anchor="end" fill="#222" font-weight="normal" font-style="normal" >2</text>
<text x="39.5" y="436.40000000000003" font-size="6.7" text-anchor="end" fill="#222" font-weight="normal" font-style="normal" >3</text>
<text x="50.9" y="456.3" font-size="6.7" text-anchor="end" fill="#222" font-weight="normal" font-style="normal" >4</text>
<text x="39.5" y="474.40000000000003" font-size="6.7" text-anchor="end" fill="#222" font-weight="normal" font-style="normal" >5</text>
<text x="50.9" y="494.1" font-size="6.7" text-anchor="end" fill="#222" font-weight="normal" font-style="normal" >6</text>
<text x="39.5" y="509.3" font-size="6.7" text-anchor="end" fill="#222" font-weight="normal" font-style="normal" >7</text>
<text x="50.9" y="525.8" font-size="6.7" text-anchor="end" fill="#222" font-weight="normal" font-style="normal" >8</text>
<text x="39.5" y="538.5" font-size="6.7" text-anchor="end" fill="#222" font-weight="normal" font-style="normal" >9</text>
<text x="50.9" y="554.8" font-size="6.7" text-anchor="end" fill="#222" font-weight="normal" font-style="normal" >10</text>
<text x="39.5" y="568.8" font-size="6.7" text-anchor="end" fill="#222" font-weight="normal" font-style="normal" >11</text>
<text x="50.9" y="582.3" font-size="6.7" text-anchor="end" fill="#222" font-weight="normal" font-style="normal" >12</text>
<text x="39.5" y="594.5" font-size="6.7" text-anchor="end" fill="#222" font-weight="normal" font-style="normal" >13</text>
<text x="50.9" y="603.4" font-size="6.7" text-anchor="end" fill="#222" font-weight="normal" font-style="normal" >14</text>
<text x="39.5" y="614.5999999999999" font-size="6.7" text-anchor="end" fill="#222" font-weight="normal" font-style="normal" >15</text>
<text x="50.9" y="619.8" font-size="6.7" text-anchor="end" fill="#222" font-weight="normal" font-style="normal" >16</text>
<text x="39.5" y="628.4" font-size="6.7" text-anchor="end" fill="#222" font-weight="normal" font-style="normal" >17</text>
<text x="50.9" y="635.0999999999999" font-size="6.7" text-anchor="end" fill="#222" font-weight="normal" font-style="normal" >18</text>
<text x="39.5" y="641.5" font-size="6.7" text-anchor="end" fill="#222" font-weight="normal" font-style="normal" >19</text>
<text x="50.9" y="647.4" font-size="6.7" text-anchor="end" fill="#222" font-weight="normal" font-style="normal" >20</text>
<text x="39.5" y="651.6999999999999" font-size="6.7" text-anchor="end" fill="#222" font-weight="normal" font-style="normal" >21</text>
<text x="50.9" y="656.8" font-size="6.7" text-anchor="end" fill="#222" font-weight="normal" font-style="normal" >22</text>
<text x="0" y="0" font-size="9" fill="#222" textLength="45.4" lengthAdjust="spacingAndGlyphs" transform="translate(26.8 539.2) rotate(-90)">Chromosome</text>
<line x1="186" y1="528.4" x2="246" y2="528.4" stroke="#111" stroke-width="1.5"/>
<path d="M180,528.4 L188.8,524.9 L186.6,528.4 L188.8,531.9 Z" fill="#111"/>
<line x1="141" y1="633.8" x2="384" y2="633.8" stroke="#111" stroke-width="1.5"/>
<path d="M135,633.8 L143.8,630.3 L141.6,633.8 L143.8,637.3 Z" fill="#111"/>
<rect x="246.2" y="377.6" width="127.80000000000001" height="163.5" fill="#fff" stroke="#111" stroke-width="1.4" stroke-dasharray="2.6,1.73"/>
<text x="309.8" y="371.7" font-size="9.5" text-anchor="middle" fill="#111" font-weight="bold" font-style="normal" >8q24.21</text>
<rect x="384.0" y="512.5" width="127.60000000000002" height="162.5" fill="#fff" stroke="#111" stroke-width="1.4" stroke-dasharray="2.6,1.73"/>
<text x="447.5" y="507.3" font-size="9.5" text-anchor="middle" fill="#111" font-weight="bold" font-style="normal" >18q21.33</text>
<line x1="259.5" y1="394.0" x2="361.3" y2="394.0" stroke="#222" stroke-width="1.3"/>
<line x1="261.5" y1="391.4" x2="261.5" y2="394.0" stroke="#222" stroke-width="0.9"/>
<line x1="285.0" y1="391.4" x2="285.0" y2="394.0" stroke="#222" stroke-width="0.9"/>
<line x1="308.5" y1="391.4" x2="308.5" y2="394.0" stroke="#222" stroke-width="0.9"/>
<line x1="332.0" y1="391.4" x2="332.0" y2="394.0" stroke="#222" stroke-width="0.9"/>
<line x1="355.5" y1="391.4" x2="355.5" y2="394.0" stroke="#222" stroke-width="0.9"/>
<text x="261.4" y="389.8" font-size="6.3" text-anchor="middle" fill="#222" font-weight="normal" font-style="normal" >0</text>
<text x="309.2" y="389.8" font-size="6.3" text-anchor="middle" fill="#222" font-weight="normal" font-style="normal" >10 mb</text>
<text x="355.6" y="389.8" font-size="6.3" text-anchor="middle" fill="#222" font-weight="normal" font-style="normal" >20 mb</text>
<line x1="259.5" y1="395.7" x2="361.3" y2="395.7" stroke="#b0b0b0" stroke-width="0.8"/>
<line x1="259.5" y1="402.4" x2="361.3" y2="402.4" stroke="#a8182a" stroke-width="1.8"/>
<line x1="259.5" y1="408.8" x2="361.3" y2="408.8" stroke="#c4c4c8" stroke-width="1.1"/>
<rect x="259.5" y="409.4" width="101.80000000000001" height="3.3000000000000114" fill="#fdf6f6"/>
<rect x="295.2" y="409.4" width="12.800000000000011" height="3.3000000000000114" fill="#e8000c"/>
<rect x="308" y="409.4" width="5" height="3.3000000000000114" fill="#a8a8e0"/>
<rect x="259.5" y="412.7" width="101.80000000000001" height="4.300000000000011" fill="#fdf2f2"/>
<rect x="259.5" y="412.7" width="35.5" height="4.300000000000011" fill="#f6c2c2"/>
<rect x="295" y="412.7" width="10" height="4.300000000000011" fill="#f07070"/>
<rect x="259.5" y="417.0" width="101.80000000000001" height="4.0" fill="#fefafa"/>
<rect x="259.5" y="417.0" width="36.5" height="4.0" fill="#ebe2f2"/>
<rect x="296" y="417.0" width="7" height="4.0" fill="#f09090"/>
<rect x="311" y="417.0" width="18" height="4.0" fill="#dfe4f8"/>
<rect x="259.5" y="421.0" width="101.80000000000001" height="3.6000000000000227" fill="#f07078"/>
<rect x="289" y="421.0" width="11" height="3.6000000000000227" fill="#f3a0a0"/>
<rect x="300" y="421.0" width="20" height="3.6000000000000227" fill="#fefafa"/>
<rect x="259.5" y="424.6" width="101.80000000000001" height="3.7999999999999545" fill="#f8a4a4"/>
<rect x="259.5" y="424.6" width="26.19999999999999" height="3.7999999999999545" fill="#fef6f6"/>
<rect x="259.5" y="428.4" width="101.80000000000001" height="3.6000000000000227" fill="#f6a8a8"/>
<rect x="259.5" y="432.0" width="101.80000000000001" height="3.1999999999999886" fill="#f7bcbc"/>
<rect x="259.5" y="432.0" width="15.5" height="3.1999999999999886" fill="#fef6f6"/>
<rect x="259.5" y="435.2" width="101.80000000000001" height="4.800000000000011" fill="#f6b8b8"/>
<rect x="302.5" y="435.2" width="58.80000000000001" height="4.800000000000011" fill="#f9c8c8"/>
<rect x="259.5" y="440.0" width="101.80000000000001" height="3.1999999999999886" fill="#f8c4c4"/>
<rect x="311" y="440.0" width="50.30000000000001" height="3.1999999999999886" fill="#fef8f8"/>
<rect x="259.5" y="443.2" width="101.80000000000001" height="3.8000000000000114" fill="#f6c0c0"/>
<rect x="259.5" y="443.2" width="27.19999999999999" height="3.8000000000000114" fill="#fef8f8"/>
<rect x="325" y="443.2" width="4.5" height="3.8000000000000114" fill="#fef8f8"/>
<rect x="259.5" y="447.0" width="101.80000000000001" height="3.1999999999999886" fill="#f8caca"/>
<rect x="302.5" y="447.0" width="58.80000000000001" height="3.1999999999999886" fill="#fdf2f2"/>
<rect x="259.5" y="450.2" width="101.80000000000001" height="4.800000000000011" fill="#f9cccc"/>
<rect x="259.5" y="455.0" width="101.80000000000001" height="3.1999999999999886" fill="#f9cccc"/>
<rect x="259.5" y="455.0" width="36.5" height="3.1999999999999886" fill="#fef8f8"/>
<rect x="311" y="455.0" width="10.5" height="3.1999999999999886" fill="#fbe6dc"/>
<rect x="259.5" y="458.2" width="101.80000000000001" height="25.80000000000001" fill="#f9d0d0"/>
<rect x="259.5" y="484.0" width="101.80000000000001" height="4.399999999999977" fill="#fdf6f6"/>
<rect x="302.5" y="484.0" width="13.5" height="4.399999999999977" fill="#eee6f6"/>
<rect x="259.5" y="488.4" width="101.80000000000001" height="40.200000000000045" fill="#fbdcdc"/>
<rect x="312" y="506" width="3.5" height="5" fill="#fefafa"/>
<rect x="259.5" y="503.5" width="42" height="2.2" fill="#f8d2d2" opacity="0.8"/>
<rect x="259.5" y="528.8" width="101.80000000000001" height="1.8" fill="#b4b4b4"/>
<line x1="302.6" y1="410" x2="302.6" y2="541" stroke="#2a1a16" stroke-width="1.2" stroke-dasharray="1.1,0.9"/>
<text x="303.3" y="538.1" font-size="7.3" text-anchor="middle" fill="#111" font-weight="bold" font-style="italic" >MYC</text>
<line x1="398.3" y1="528.2" x2="498.6" y2="528.2" stroke="#222" stroke-width="1.3"/>
<line x1="400.4" y1="525.6" x2="400.4" y2="528.2" stroke="#222" stroke-width="0.9"/>
<line x1="420.4" y1="525.6" x2="420.4" y2="528.2" stroke="#222" stroke-width="0.9"/>
<line x1="440.4" y1="525.6" x2="440.4" y2="528.2" stroke="#222" stroke-width="0.9"/>
<line x1="460.4" y1="525.6" x2="460.4" y2="528.2" stroke="#222" stroke-width="0.9"/>
<line x1="480.4" y1="525.6" x2="480.4" y2="528.2" stroke="#222" stroke-width="0.9"/>
<text x="400.6" y="523.4" font-size="6.3" text-anchor="middle" fill="#222" font-weight="normal" font-style="normal" >0</text>
<text x="440.6" y="523.4" font-size="6.3" text-anchor="middle" fill="#222" font-weight="normal" font-style="normal" >10 mb</text>
<text x="479.6" y="523.4" font-size="6.3" text-anchor="middle" fill="#222" font-weight="normal" font-style="normal" >20 mb</text>
<line x1="398.3" y1="531.0" x2="498.6" y2="531.0" stroke="#aaa6c2" stroke-width="1.7"/>
<line x1="398.3" y1="536.5" x2="498.6" y2="536.5" stroke="#b8102c" stroke-width="1.8"/>
<defs><linearGradient id="bg" x1="0" y1="0" x2="0" y2="1"><stop offset="0" stop-color="#f54444"/><stop offset="0.25" stop-color="#f46666"/><stop offset="0.5" stop-color="#f48484"/><stop offset="0.75" stop-color="#f59a9a"/><stop offset="1" stop-color="#f7a6a6"/></linearGradient><linearGradient id="bg2" x1="0" y1="0" x2="0" y2="1"><stop offset="0" stop-color="#f8bcbc"/><stop offset="1" stop-color="#fad6d6"/></linearGradient></defs>
<rect x="398.3" y="543.5" width="100.30000000000001" height="75.3" fill="url(#bg)"/>
<rect x="398.3" y="549.5" width="100.30000000000001" height="1.2" fill="#fff" opacity="0.1"/>
<rect x="398.3" y="555" width="100.30000000000001" height="1.5" fill="#fff" opacity="0.12"/>
<rect x="398.3" y="560.5" width="100.30000000000001" height="1.2" fill="#fff" opacity="0.1"/>
<rect x="398.3" y="565" width="100.30000000000001" height="1.5" fill="#fff" opacity="0.14"/>
<rect x="402" y="571" width="14" height="2" fill="#fff" opacity="0.18"/>
<rect x="444" y="571" width="54.60000000000002" height="1.5" fill="#fff" opacity="0.1"/>
<rect x="398.3" y="578" width="100.30000000000001" height="1.6" fill="#fff" opacity="0.14"/>
<rect x="420" y="582.5" width="78.60000000000002" height="1.4" fill="#fff" opacity="0.12"/>
<rect x="444" y="591.5" width="54.60000000000002" height="2.5" fill="#fff" opacity="0.15"/>
<rect x="398.3" y="585" width="12" height="2.6" fill="#fbdcdc"/>
<rect x="398.3" y="592" width="45.69999999999999" height="3.4" fill="#fde6e6"/>
<rect x="478" y="599.7" width="20.600000000000023" height="3.4" fill="#f06a6a"/>
<rect x="455" y="606.6" width="20" height="4" fill="#fbd6d6"/>
<rect x="398.3" y="610.2" width="45.69999999999999" height="4.2" fill="#fbdcdc"/>
<rect x="398.3" y="614.4" width="45.69999999999999" height="3.4" fill="#f07272"/>
<rect x="398.3" y="618.8" width="100.30000000000001" height="3.3" fill="#fefafa"/>
<rect x="398.3" y="622.1" width="100.30000000000001" height="39.6" fill="url(#bg2)"/>
<rect x="449" y="622.1" width="49.60000000000002" height="2.8" fill="#fefafa"/>
<rect x="470" y="647.5" width="28" height="2.6" fill="#fbe6e6"/>
<rect x="402" y="655.8" width="8" height="2.4" fill="#f6b0b0"/>
<rect x="418" y="655.8" width="10" height="2.4" fill="#f6b0b0"/>
<rect x="462" y="655.8" width="20" height="2.4" fill="#f6b0b0"/>
<rect x="488" y="655" width="10" height="6" fill="#fefefe"/>
<rect x="398.3" y="661.7" width="100.30000000000001" height="1.6" fill="#bdb6d2"/>
<line x1="444.1" y1="544" x2="444.1" y2="673" stroke="#2a1a16" stroke-width="1.2" stroke-dasharray="1.1,0.9"/>
<text x="444.8" y="671.2" font-size="7.3" text-anchor="middle" fill="#111" font-weight="bold" font-style="italic" >BCL2</text>
</svg>
<div id="frame"></div>
</body></html>
